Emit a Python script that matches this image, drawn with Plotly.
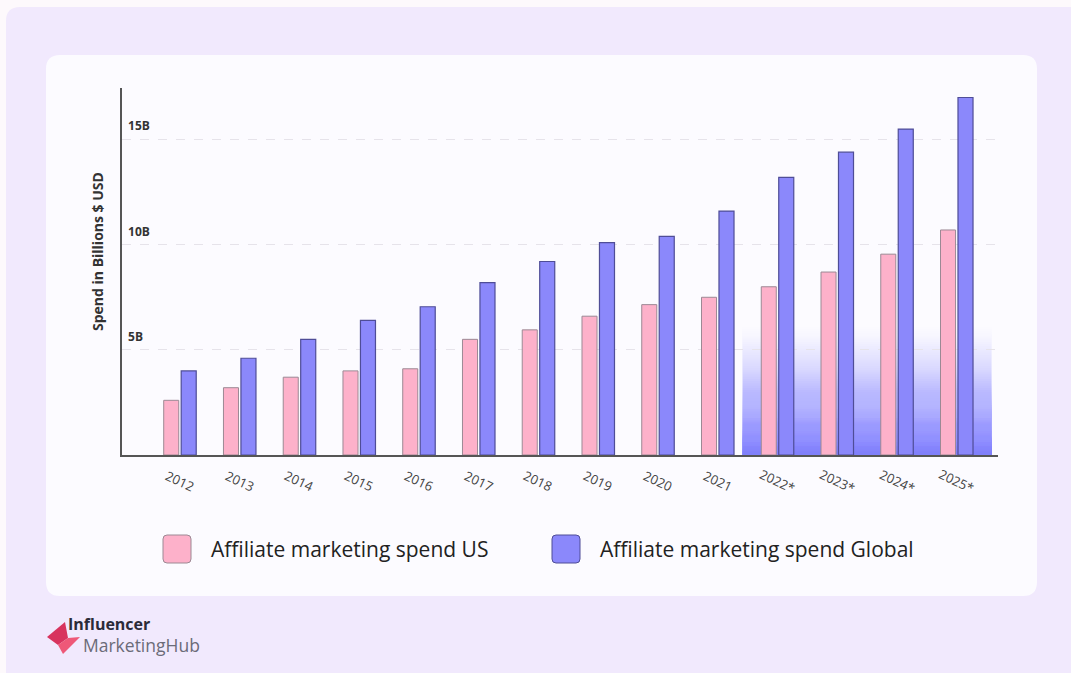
import plotly.graph_objects as go

# ---------------- data ----------------
years = ["2012", "2013", "2014", "2015", "2016", "2017", "2018",
         "2019", "2020", "2021", "2022*", "2023*", "2024*", "2025*"]
spend_us = [2.6, 3.2, 3.7, 4.0, 4.1, 5.5, 5.95, 6.6, 7.15, 7.5, 8.0, 8.7, 9.55, 10.7]
spend_global = [4.0, 4.6, 5.5, 6.4, 7.05, 8.2, 9.2, 10.1, 10.4, 11.6, 13.2, 14.4, 15.5, 17.0]
series_names = ["Affiliate marketing spend US", "Affiliate marketing spend Global"]
ytick_vals = [5, 10, 15]
ytick_text = ["5B", "10B", "15B"]
forecast_years = ["2022*", "2023*", "2024*", "2025*"]

# ---------------- styling ----------------
W, H = 1071, 673
PINK = "#fdb1ca"
PINK_LINE = "#9c8994"
BLUE = "#8b88fb"
BLUE_LINE = "#4f4d97"
FONT = "Open Sans"


def px(x):
    return x / W


def py(y):
    return 1 - y / H


def rounded_rect(x0, y0, x1, y1, r):
    # pixel coords -> paper path with rounded corners
    return (f"M {px(x0 + r)} {py(y0)} L {px(x1 - r)} {py(y0)} "
            f"Q {px(x1)} {py(y0)} {px(x1)} {py(y0 + r)} "
            f"L {px(x1)} {py(y1 - r)} Q {px(x1)} {py(y1)} {px(x1 - r)} {py(y1)} "
            f"L {px(x0 + r)} {py(y1)} Q {px(x0)} {py(y1)} {px(x0)} {py(y1 - r)} "
            f"L {px(x0)} {py(y0 + r)} Q {px(x0)} {py(y0)} {px(x0 + r)} {py(y0)} Z")


fig = go.Figure()
fig.add_trace(go.Bar(x=years, y=spend_us, name=series_names[0],
                     marker=dict(color=PINK, line=dict(color=PINK_LINE, width=1))))
fig.add_trace(go.Bar(x=years, y=spend_global, name=series_names[1],
                     marker=dict(color=BLUE, line=dict(color=BLUE_LINE, width=1.2))))

shapes = []
# outer lavender panel
shapes.append(dict(type="path", xref="paper", yref="paper", layer="below",
                   path=rounded_rect(6, 7, 1085, 690, 14),
                   fillcolor="#f1e9fd", line=dict(width=0)))
# white card
shapes.append(dict(type="path", xref="paper", yref="paper", layer="below",
                   path=rounded_rect(46, 55, 1037, 596, 14),
                   fillcolor="#fcfbff", line=dict(width=0)))

# gradient highlight behind forecast years (stacked translucent rects, no seams)
i0 = years.index(forecast_years[0])
i1 = years.index(forecast_years[-1])
n_strips = 60
g_top = 6.2


def opacity(t):
    return 0.96 * (1 - t) ** 1.15


trans = [1 - opacity((j + 0.5) / n_strips) for j in range(n_strips)] + [1.0]
for j in range(n_strips):
    a = 1 - trans[j] / trans[j + 1]
    shapes.append(dict(type="rect", xref="x", yref="y", layer="below",
                       x0=i0 - 0.585, x1=i1 + 0.585, y0=0, y1=g_top * (j + 1) / n_strips,
                       fillcolor=f"rgba(139,136,251,{max(a, 0):.4f})", line=dict(width=0)))

# custom legend squares
legend_items = [(163, PINK, PINK_LINE), (552, BLUE, BLUE_LINE)]
for (lx, col, lc) in legend_items:
    shapes.append(dict(type="path", xref="paper", yref="paper", layer="above",
                       path=rounded_rect(lx, 535, lx + 28, 563, 4),
                       fillcolor=col, line=dict(color=lc, width=1)))

# logo diamond
logo_pts = [(47, 637), (65, 622), (68, 638), (58, 645)]
logo_pts2 = [(58, 645), (68, 638), (80, 637), (63, 654)]
for pts, col in [(logo_pts, "#d8335e"), (logo_pts2, "#ee5878")]:
    path = "M " + " L ".join(f"{px(x)} {py(y)}" for x, y in pts) + " Z"
    shapes.append(dict(type="path", xref="paper", yref="paper", layer="above",
                       path=path, fillcolor=col, line=dict(width=0)))

annotations = []
# x tick labels (centered & rotated)
for i, yr in enumerate(years):
    annotations.append(dict(x=i, y=py(481), xref="x", yref="paper", text=yr,
                            showarrow=False, textangle=25,
                            xanchor="center", yanchor="middle",
                            font=dict(family=FONT, size=13, color="#444444")))
# y-axis title
annotations.append(dict(x=px(97), y=py(252), xref="paper", yref="paper",
                        text="<b>Spend in Billions $ USD</b>", showarrow=False,
                        textangle=-90, xanchor="center", yanchor="middle",
                        font=dict(family=FONT, size=14, color="#333333")))
# legend labels
for (lx, _, _), name in zip(legend_items, series_names):
    annotations.append(dict(x=px(lx + 46), y=py(549), xref="paper", yref="paper",
                            text=name, showarrow=False, xanchor="left", yanchor="middle",
                            font=dict(family=FONT, size=21, color="#222222")))
# logo text
annotations.append(dict(x=px(66), y=py(624), xref="paper", yref="paper",
                        text="<b>Influencer</b>", showarrow=False, xanchor="left",
                        yanchor="middle", font=dict(family=FONT, size=16, color="#2b2b38")))
annotations.append(dict(x=px(81), y=py(645), xref="paper", yref="paper",
                        text="MarketingHub", showarrow=False, xanchor="left",
                        yanchor="middle", font=dict(family=FONT, size=17.5, color="#6b6b78")))

y_px_per_unit = 21.03
y_max = (455 - 88) / y_px_per_unit

fig.update_layout(
    width=W, height=H, autosize=False,
    margin=dict(l=0, r=0, t=0, b=0),
    paper_bgcolor="#fdf9fc",
    plot_bgcolor="rgba(0,0,0,0)",
    barmode="group", bargap=0.415, bargroupgap=0.14,
    showlegend=False,
    shapes=shapes,
    annotations=annotations,
    font=dict(family=FONT),
    xaxis=dict(type="category", domain=[px(122), px(998)], range=[-0.97, 13.69],
               showticklabels=False, ticks="", showgrid=False,
               showline=True, linecolor="#555555", linewidth=1.5,
               zeroline=False, fixedrange=True),
    yaxis=dict(domain=[py(455), py(88)], range=[0, y_max],
               tickvals=ytick_vals, ticktext=ytick_text,
               ticklabelposition="inside top", ticks="",
               ticklabelstandoff=5, ticklabelshift=-5,
               tickfont=dict(family=FONT, size=12, color="#333333", weight="bold"),
               showgrid=True, gridcolor="#e6e3ea", griddash="dash", gridwidth=1,
               showline=True, linecolor="#555555", linewidth=1.5,
               zeroline=False, fixedrange=True),
)

fig.write_html("out.html")
